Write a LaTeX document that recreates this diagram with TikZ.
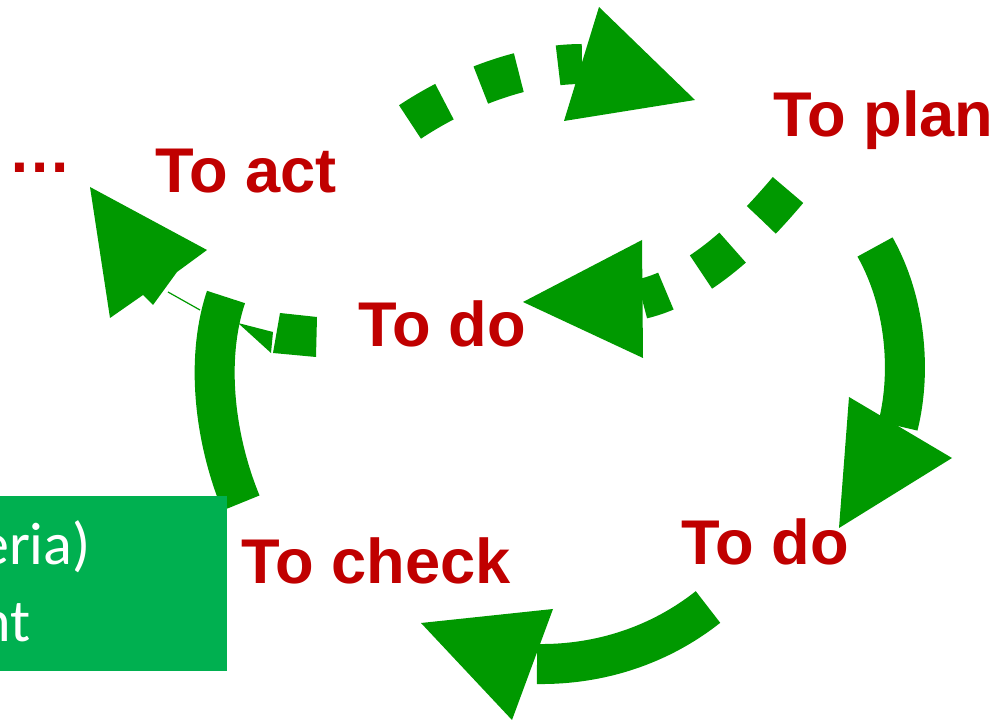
\documentclass[tikz,border=0pt]{standalone}
\usepackage{fontspec}
\setmainfont{Liberation Sans}
\newfontfamily\notefont{Carlito}
\usetikzlibrary{arrows.meta,positioning}
\definecolor{pdcagreen}{RGB}{0,153,0}
\definecolor{pdcared}{RGB}{192,0,0}
\definecolor{notegreen}{RGB}{0,176,80}

\begin{document}
\begin{tikzpicture}[x=0.5pt, y=-0.5pt,
  phase/.style={font=\fontsize{31.6}{38}\selectfont\bfseries, text=pdcared, inner sep=0pt, anchor=base west},
  notetext/.style={font=\notefont\fontsize{30}{36}\selectfont, text=white, inner sep=0pt, anchor=base east},
  shaft/.style={draw=pdcagreen, line width=20pt},
  dashshaft/.style={shaft, dash pattern=on 20pt off 20pt},
  head/.style={fill=pdcagreen}]
\useasboundingbox (0,0) rectangle (997,721);
% cycle labels
\foreach \nm/\px/\py/\lab in {plan/773/137/To plan, act/155/193/To act, domid/358/347/To do,
    dorgt/681/565/To do, check/241/584/To check, more/8/173/\dots}{
  \node[phase] (\nm) at (\px,\py) {\lab};
}
% shaft end points
\coordinate (a0) at (410,122);  \coordinate (a1) at (582,64);
\coordinate (b0) at (788,190);  \coordinate (b1) at (642,299);
\coordinate (c0) at (875,247);  \coordinate (c1) at (898,426);
\coordinate (d0) at (708,607);  \coordinate (d1) at (537,664);
\coordinate (e0) at (241,503);  \coordinate (e1) at (226,297);
% act -> plan, plan -> do (dashed)
\draw[dashshaft] (a0) .. controls (455,92) and (520,64) .. (a1);
\fill[head] (599,7) -- (695,100) -- (564,121) -- cycle;
\draw[dashshaft] (b0) .. controls (750,235) and (700,285) .. (b1);
\fill[head] (642,240) -- (643,358) -- (523,302) -- cycle;
% plan -> do -> check -> act (solid)
\draw[shaft] (c0) .. controls (905,300) and (912,370) .. (c1);
\fill[head] (849,397) -- (952,458) -- (839,528) -- cycle;
\draw[shaft] (d0) .. controls (660,645) and (600,665) .. (d1);
\fill[head] (553,609) -- (512,720) -- (421,623) -- cycle;
\draw[shaft] (e0) .. controls (215,440) and (205,360) .. (e1);
\fill[head] (90,187) -- (207,250) -- (177,272) -- (153,305) -- (143,295) -- (110,318) -- cycle;
% leftover bits near the act arrow
\draw[pdcagreen, line width=0.6pt] (168,292) -- (200,310);
\fill[head] (238,323) -- (273,332) -- (271,353) -- cycle;
\fill[head] (280,313) -- (317,317) -- (316,357) -- (273,353) -- cycle;
% note box
\fill[notegreen] (0,496) rectangle (227,671);
\node[notetext] (crit) at (91,565) {eria)};
\node[notetext] (ment) at (31,642) {nt};
\end{tikzpicture}
\end{document}
